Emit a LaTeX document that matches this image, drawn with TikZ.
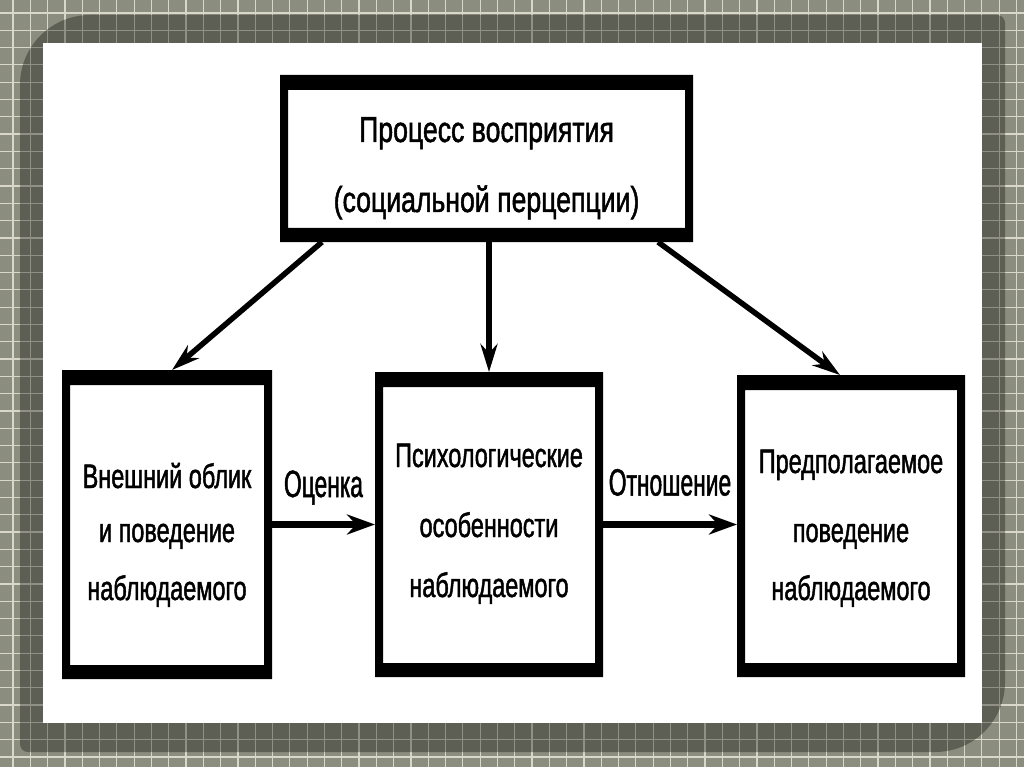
\documentclass[tikz,border=0pt]{standalone}
\usepackage{fontspec}
\usetikzlibrary{arrows.meta}
\newfontfamily\titlefont[FakeStretch=0.74,FakeBold=1.3]{Liberation Sans}
\newfontfamily\boxfont[FakeStretch=0.69,FakeBold=1.3]{Liberation Sans}
\newfontfamily\labfont[FakeStretch=0.6,FakeBold=1.3]{Liberation Sans}
\definecolor{bgcol}{HTML}{8B8D7E}
\definecolor{gridcol}{HTML}{D9D8C8}
\tikzset{
  gridline/.style={draw=gridcol, line width=1.2pt},
  frbox/.style={rectangle, inner sep=0pt, outer sep=0pt, fill=white, draw=none,
    path picture={\fill[black, even odd rule]
      (path picture bounding box.south west) rectangle (path picture bounding box.north east)
      ([xshift=8pt,yshift=-15pt]path picture bounding box.north west) rectangle
      ([xshift=-8pt,yshift=14pt]path picture bounding box.south east);}},
  darr/.style={line width=5.5pt, -{Stealth[length=28pt,width=17pt,inset=9pt]}},
  harr/.style={line width=7pt, -{Stealth[length=28pt,width=20pt,inset=9pt]}},
  lab/.style={anchor=base, inner sep=0pt, font=\labfont\fontsize{38}{40}\selectfont}
}
\begin{document}
\begin{tikzpicture}[x=1pt, y=-1pt]
\useasboundingbox (0,0) rectangle (1024,767);
\fill[bgcol] (0,0) rectangle (1024,767);
\foreach \i in {0,...,59} { \draw[gridline] ({13+17.3*\i},0) -- ({13+17.3*\i},767); }
\foreach \j in {0,...,44} { \draw[gridline] (0,{13+17.3*\j}) -- (1024,{13+17.3*\j}); }
\fill[black, fill opacity=0.33, rounded corners=70pt] (20,385) -- (20,15) -- (512,15)
  [rounded corners=8pt] -- (1005,15) -- (1005,385)
  [rounded corners=70pt] -- (1005,752) -- (512,752)
  [rounded corners=8pt] -- (20,752) -- cycle;
\fill[white] (43,43) rectangle (982,723);

\node[frbox, minimum width=413pt, minimum height=167pt] (T) at (486.5,158.5)
  {\raisebox{16.5pt}[0pt][0pt]{\titlefont\fontsize{36}{70}\selectfont
   \begin{tabular}[t]{@{}c@{}}Процесс восприятия\\(социальной перцепции)\end{tabular}}};
\node[frbox, minimum width=210pt, minimum height=309pt] (L) at (167,524.5)
  {\raisebox{36.5pt}[0pt][0pt]{\boxfont\fontsize{34}{58}\selectfont
   \begin{tabular}[t]{@{}c@{}}Внешний облик\\[-4pt]и поведение\\наблюдаемого\end{tabular}}};
\node[frbox, minimum width=228pt, minimum height=305pt] (M) at (489,524.5)
  {\raisebox{57.5pt}[0pt][0pt]{\boxfont\fontsize{34}{60}\selectfont
   \begin{tabular}[t]{@{}c@{}}Психологические\\[10pt]особенности\\наблюдаемого\end{tabular}}};
\node[frbox, minimum width=228pt, minimum height=302pt] (R) at (851,526)
  {\raisebox{53pt}[0pt][0pt]{\boxfont\fontsize{34}{58}\selectfont
   \begin{tabular}[t]{@{}c@{}}Предполагаемое\\[11pt]поведение\\наблюдаемого\end{tabular}}};

\draw[darr] ([xshift=42pt]T.south west) -- ([xshift=110pt]L.north west);
\draw[darr] (T.south -| M.north) -- (M.north);
\draw[darr] ([xshift=-35pt]T.south east) -- ([xshift=103pt]R.north west);
\draw[harr] (L.east) -- (L.east -| M.west) node[lab, midway, yshift=27.5pt] {Оценка};
\draw[harr] (M.east) -- (M.east -| R.west) node[lab, midway, yshift=29pt] {Отношение};
\end{tikzpicture}
\end{document}
